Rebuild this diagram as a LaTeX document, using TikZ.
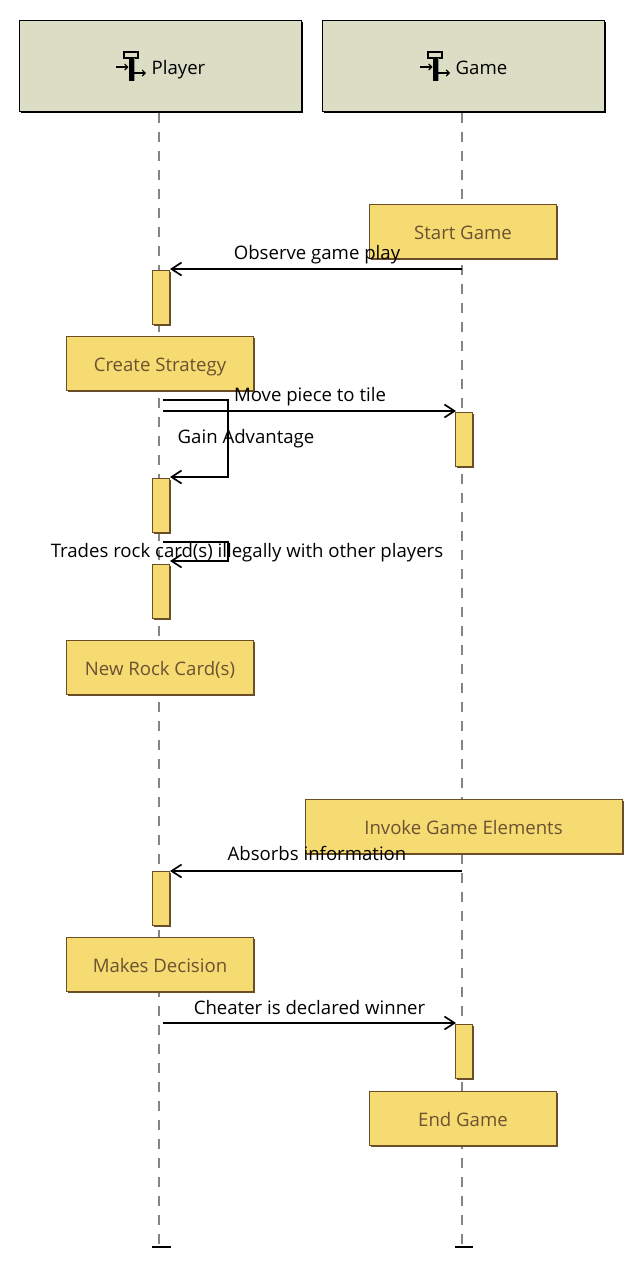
\documentclass[tikz,border=0pt]{standalone}
\usepackage{fontspec}
\setmainfont{Open Sans}
\usetikzlibrary{arrows.meta,shadows}
\definecolor{headfill}{HTML}{DCDDC5}
\definecolor{boxfill}{HTML}{F6DA72}
\definecolor{boxedge}{HTML}{6A4E28}
\definecolor{boxtext}{HTML}{6B5232}
\tikzset{
  actoricon/.pic={
    \draw[black,line width=1.2pt,fill=headfill] (-7,-15) rectangle (7,-9);
    \fill[black!45] (2.5,-9) rectangle (4,14);
    \fill[black] (-2.5,-9) rectangle (2.5,14);
    \draw[black,line width=1.1pt,-{Straight Barb[length=3pt,width=6pt]}] (-15,0) -- (-2.5,0);
    \draw[black,line width=1.1pt,-{Straight Barb[length=3pt,width=6pt]}] (2.5,6) -- (15,6);
  }
}
\begin{document}
\begin{tikzpicture}[x=1pt,y=-1pt,>={Straight Barb[length=10pt,width=13pt]},
  head/.style={draw=black,line width=1pt,fill=headfill,minimum width=282pt,minimum height=91pt,inner sep=0pt,drop shadow={shadow xshift=1.6pt,shadow yshift=-1.6pt,fill=black,opacity=1}},
  headtext/.style={font=\fontsize{18.6pt}{22pt}\selectfont,text=black,inner sep=0pt,anchor=base},
  statebox/.style={draw=boxedge,line width=1pt,fill=boxfill,text=boxtext,minimum height=54pt,inner sep=0pt,text height=16.6pt,text depth=0pt,font=\fontsize{18.6pt}{22pt}\selectfont,drop shadow={shadow xshift=1.6pt,shadow yshift=-1.6pt,fill=boxedge,opacity=1}},
  activ/.style={draw=boxedge,line width=1pt,fill=boxfill,minimum width=17pt,minimum height=54pt,inner sep=0pt,drop shadow={shadow xshift=1.6pt,shadow yshift=-1.6pt,fill=boxedge,opacity=1}},
  lifeline/.style={draw=black!48,line width=2pt,dash pattern=on 10pt off 9pt},
  msg/.style={draw=black,line width=1.7pt,->},
  msgtext/.style={font=\fontsize{18.6pt}{22pt}\selectfont,text=black,inner sep=0pt,anchor=base},
  endbar/.style={draw=black,line width=1.1pt}]
\useasboundingbox (0,0) rectangle (642,1280);
% lifelines
\node[head] (Player) at (160,65.5) {};
\node[head] (Game) at (463,65.5) {};
\coordinate (playerstart) at (158.5,113);
\coordinate (gamestart) at (462,113);
\coordinate (playerend) at (158.5,1245);
\coordinate (gameend) at (462,1245);
\draw[lifeline] (playerstart) -- (playerend);
\draw[lifeline] (gamestart) -- (gameend);
\pic at (131,67) {actoricon};
\pic at (435,67) {actoricon};
\node[headtext] (playername) at (178.5,74) {Player};
\node[headtext] (gamename) at (481.5,74) {Game};
\coordinate (pbl) at (152,1247); \coordinate (pbr) at (171,1247);
\coordinate (gbl) at (455,1247); \coordinate (gbr) at (473,1247);
\draw[endbar] (pbl) -- (pbr);
\draw[endbar] (gbl) -- (gbr);
% states
\node[statebox,minimum width=187pt] (startgame) at (463,231) {Start Game};
\node[statebox,minimum width=187pt] (createstrategy) at (160,363.5) {Create Strategy};
\node[statebox,minimum width=187pt] (newrock) at (160,667) {New Rock Card(s)};
\node[statebox,minimum width=317pt] (invoke) at (463.5,826) {Invoke Game Elements};
\node[statebox,minimum width=187pt] (decision) at (160,964.5) {Makes Decision};
\node[statebox,minimum width=187pt] (endgame) at (463,1118) {End Game};
% activations
\node[activ] (a1) at (160.5,297) {};
\node[activ] (a2) at (160.5,505) {};
\node[activ] (a3) at (160.5,591) {};
\node[activ] (a4) at (160.5,898) {};
\node[activ] (b1) at (463.5,439) {};
\node[activ] (b2) at (463.5,1051) {};
% messages
\coordinate (m1) at (462,269); \coordinate (m1e) at (170,269);
\coordinate (m2) at (163,411); \coordinate (m2e) at (456,411);
\coordinate (m3) at (163,400); \coordinate (m3a) at (228,400); \coordinate (m3b) at (228,477); \coordinate (m3e) at (170,477);
\coordinate (m4) at (163,542); \coordinate (m4a) at (228,542); \coordinate (m4b) at (228,561); \coordinate (m4e) at (170,561);
\coordinate (m5) at (462,871); \coordinate (m5e) at (170,871);
\coordinate (m6) at (163,1023); \coordinate (m6e) at (456,1023);
\draw[msg] (m1) -- (m1e);
\draw[msg] (m2) -- (m2e);
\draw[msg] (m3) -- (m3a) -- (m3b) -- (m3e);
\draw[msg] (m4) -- (m4a) -- (m4b) -- (m4e);
\draw[msg] (m5) -- (m5e);
\draw[msg] (m6) -- (m6e);
\node[msgtext] (observe) at (317,259.5) {Observe game play};
\node[msgtext] (movepiece) at (310,401.5) {Move piece to tile};
\node[msgtext] (gain) at (246,443.5) {Gain Advantage};
\node[msgtext] (trades) at (247,557.5) {Trades rock card(s) illegally with other players};
\node[msgtext] (absorbs) at (317,860.5) {Absorbs information};
\node[msgtext] (cheater) at (309.5,1014.5) {Cheater is declared winner};
\end{tikzpicture}
\end{document}
